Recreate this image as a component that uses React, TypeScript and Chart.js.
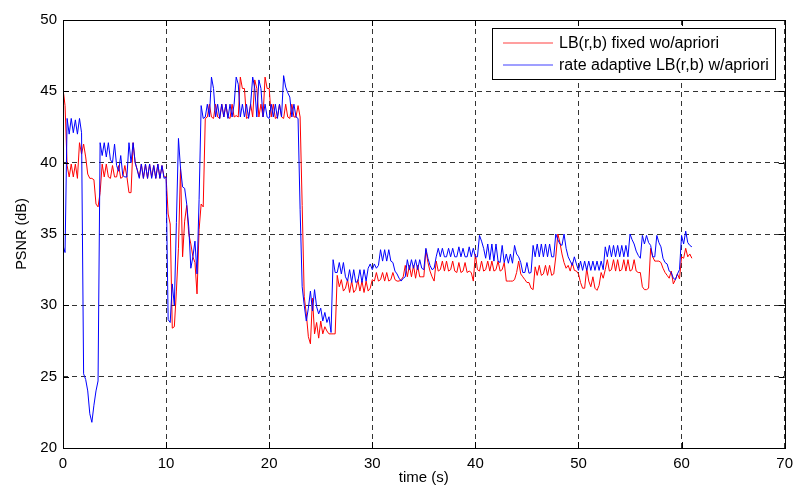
import React, { useEffect, useRef } from "react";
import { Chart, registerables } from "chart.js";

Chart.register(...registerables);

const FONT = "'Liberation Sans', Arial, Helvetica, sans-serif";

const sampleStep = 0.2; // seconds between samples
const xTicks = [0, 10, 20, 30, 40, 50, 60, 70];
const yTicks = [20, 25, 30, 35, 40, 45, 50];
const xTitle = "time (s)";
const yTitle = "PSNR (dB)";
const legendLabels = ["LB(r,b) fixed wo/apriori", "rate adaptive LB(r,b) w/apriori"];

// LB(r,b) fixed wo/apriori (red), one value every 0.2 s, rows of 2 s
const redPSNR = [
  45.2, 44.0, 39.8, 39.0, 39.9, 39.0, 39.9, 38.9, 41.4, 40.6,
  41.3, 40.4, 39.2, 38.9, 38.9, 38.8, 37.1, 36.9, 37.9, 39.9,
  39.0, 39.9, 39.0, 38.9, 39.8, 39.0, 39.0, 39.8, 38.9, 39.0,
  39.8, 39.0, 37.9, 37.9, 41.4, 40.0, 39.5, 39.0, 39.9, 38.9,
  39.9, 38.9, 39.9, 39.0, 39.8, 38.9, 39.9, 38.9, 39.8, 39.0,
  39.0, 36.4, 35.7, 28.4, 28.5, 31.0, 34.0, 39.7, 33.4, 35.9,
  37.0, 35.0, 34.3, 33.4, 33.0, 30.8, 35.3, 37.1, 36.9, 43.1,
  43.2, 44.1, 43.2, 43.1, 44.1, 43.2, 43.1, 44.1, 43.2, 44.1,
  43.2, 43.1, 44.1, 43.2, 43.3, 43.2, 46.0, 45.2, 45.2, 43.1,
  43.2, 44.1, 43.2, 45.8, 45.2, 43.2, 44.1, 43.2, 46.0, 45.2,
  45.2, 43.2, 44.1, 43.1, 43.2, 44.1, 43.2, 43.1, 44.1, 43.2,
  43.1, 44.1, 43.2, 43.2, 44.0, 43.2, 37.0, 30.6, 29.4, 27.8,
  27.3, 30.5, 28.0, 28.8, 27.7, 28.9, 28.0, 28.5, 28.2, 28.0,
  28.0, 28.0, 28.0, 32.1, 31.3, 31.8, 31.0, 31.2, 31.8, 30.9,
  31.7, 30.9, 31.1, 31.8, 31.0, 31.7, 30.9, 31.7, 31.0, 31.2,
  31.8, 31.7, 32.3, 31.7, 31.8, 32.3, 31.7, 32.3, 31.7, 31.8,
  32.3, 31.8, 31.7, 31.7, 31.8, 32.0, 32.8, 32.0, 32.8, 32.0,
  32.8, 31.9, 32.8, 32.0, 32.0, 32.0, 33.9, 33.0, 32.4, 32.0,
  31.7, 33.1, 32.4, 32.5, 33.1, 32.4, 33.1, 32.4, 32.5, 33.1,
  32.4, 32.3, 33.0, 32.3, 32.4, 33.0, 32.3, 32.4, 32.3, 31.7,
  33.6, 32.5, 32.4, 33.1, 32.4, 32.5, 33.1, 32.4, 33.1, 32.4,
  32.5, 33.1, 32.4, 32.5, 33.0, 31.7, 31.7, 31.7, 31.7, 31.8,
  32.3, 33.1, 32.2, 32.0, 31.8, 31.6, 31.6, 31.2, 31.1, 32.7,
  32.1, 32.8, 32.1, 32.2, 32.8, 32.1, 32.8, 32.1, 32.2, 33.4,
  35.0, 34.4, 33.6, 33.0, 32.6, 32.8, 32.4, 33.0, 32.45, 32.4,
  32.2, 31.6, 31.2, 31.2, 32.6, 31.7, 31.3, 32.0, 31.2, 31.05,
  31.4, 32.3, 31.9, 32.5, 33.2, 32.4, 32.5, 33.2, 32.4, 33.2,
  32.4, 32.5, 33.2, 32.4, 33.2, 32.4, 32.5, 33.2, 32.4, 32.3,
  32.3, 31.3, 31.1, 31.1, 31.2, 34.0, 33.4, 33.1, 33.1, 33.1,
  33.0, 32.6, 32.3, 32.1, 31.9, 32.4, 31.5, 31.8, 32.2, 31.85,
  33.4, 33.3, 34.0, 33.4, 33.6, 33.3,
];

// rate adaptive LB(r,b) w/apriori (blue), one value every 0.2 s
const bluePSNR = [
  34.2, 33.7, 43.1, 42.0, 43.1, 42.1, 43.0, 42.0, 43.1, 42.1,
  25.2, 24.8, 24.0, 22.4, 21.8, 23.0, 24.0, 24.7, 41.4, 40.5,
  41.4, 40.4, 41.4, 40.2, 40.0, 41.3, 39.8, 39.4, 40.5, 39.1,
  39.0, 39.0, 41.4, 40.0, 41.4, 40.0, 39.5, 38.9, 39.9, 38.9,
  39.9, 38.9, 39.9, 38.9, 39.8, 38.9, 39.9, 38.9, 39.8, 38.9,
  39.0, 29.0, 28.8, 31.5, 30.0, 35.8, 41.7, 39.6, 38.3, 38.2,
  37.1, 35.5, 32.6, 33.4, 34.5, 32.2, 37.4, 44.0, 43.1, 43.2,
  44.1, 43.2, 46.0, 45.2, 43.2, 44.1, 43.1, 44.1, 43.2, 44.1,
  43.1, 44.1, 43.2, 44.1, 46.0, 45.5, 43.2, 44.1, 43.2, 44.1,
  43.1, 44.1, 46.0, 45.2, 43.2, 45.8, 45.2, 43.2, 44.1, 43.2,
  43.1, 44.1, 43.2, 44.1, 43.1, 44.1, 43.2, 46.1, 45.3, 44.9,
  44.6, 43.2, 44.1, 43.2, 43.1, 36.7, 31.3, 30.0, 28.9, 29.8,
  31.0, 29.6, 31.1, 29.9, 29.4, 29.8, 28.9, 29.5, 28.8, 29.2,
  28.1, 33.2, 32.3, 32.3, 33.0, 32.2, 33.0, 32.0, 31.7, 32.5,
  31.6, 32.5, 31.6, 31.7, 32.5, 31.6, 32.5, 31.7, 32.6, 32.9,
  32.5, 32.9, 32.6, 32.8, 33.9, 33.1, 33.9, 33.1, 33.9, 33.1,
  33.0, 32.4, 32.2, 31.9, 31.7, 31.9, 32.0, 33.2, 32.5, 33.2,
  32.6, 33.2, 32.5, 33.2, 32.6, 32.5, 34.0, 33.3, 32.8, 32.5,
  32.6, 33.4, 34.0, 33.4, 34.0, 33.4, 33.4, 34.0, 33.4, 34.0,
  33.4, 33.4, 34.1, 33.4, 34.0, 33.4, 33.4, 34.1, 33.4, 34.0,
  33.4, 33.4, 34.9, 34.5, 34.0, 33.3, 34.3, 33.2, 34.3, 33.1,
  34.3, 33.1, 33.0, 34.2, 33.0, 33.6, 32.95, 33.6, 32.95, 34.2,
  33.6, 33.4, 33.0, 32.3, 32.3, 33.0, 32.25, 32.3, 34.2, 33.4,
  34.3, 33.4, 34.3, 33.4, 34.3, 33.4, 34.3, 33.4, 33.4, 35.0,
  34.6, 34.3, 34.2, 35.0, 34.0, 33.4, 33.1, 32.8, 33.4, 32.9,
  32.45, 33.1, 32.45, 33.1, 32.45, 33.1, 32.45, 33.1, 32.45, 33.1,
  32.45, 33.1, 32.5, 34.1, 33.4, 34.2, 33.4, 34.2, 33.4, 34.2,
  33.4, 34.2, 33.4, 34.2, 33.4, 35.0, 34.6, 34.3, 33.8, 33.5,
  33.3, 34.9, 34.3, 34.9, 34.4, 34.2, 33.4, 33.4, 34.9, 34.4,
  34.1, 33.3, 33.0, 32.9, 32.4, 32.3, 31.9, 31.8, 32.2, 32.5,
  34.9, 34.3, 35.2, 34.4, 34.2, 34.1,
];

const RED = "#ff0000";
const BLUE = "#0000ff";

export default function App() {
  const ref = useRef<HTMLCanvasElement>(null);

  useEffect(() => {
    document.body.style.margin = "0";
    const canvas = ref.current;
    if (!canvas) return;

    const toPoints = (vals: number[]) =>
      vals.map((v, i) => ({ x: Math.round(i * sampleStep * 10) / 10, y: v }));

    const framePlugin = {
      id: "matlabFrame",
      afterDraw(chart: any) {
        const { ctx, chartArea } = chart;
        const { left, right, top, bottom } = chartArea;
        const xs = chart.scales.x;
        const ys = chart.scales.y;
        ctx.save();
        // axes box
        ctx.strokeStyle = "#000";
        ctx.lineWidth = 1;
        ctx.setLineDash([]);
        ctx.strokeRect(Math.round(left) + 0.5, Math.round(top) + 0.5, Math.round(right - left), Math.round(bottom - top));
        // inward tick marks
        const tl = 6;
        ctx.beginPath();
        xTicks.forEach((v) => {
          const px = Math.round(xs.getPixelForValue(v)) + 0.5;
          ctx.moveTo(px, bottom);
          ctx.lineTo(px, bottom - tl);
          ctx.moveTo(px, top);
          ctx.lineTo(px, top + tl);
        });
        yTicks.forEach((v) => {
          const py = Math.round(ys.getPixelForValue(v)) + 0.5;
          ctx.moveTo(left, py);
          ctx.lineTo(left + tl, py);
          ctx.moveTo(right, py);
          ctx.lineTo(right - tl, py);
        });
        ctx.stroke();

        // axis titles
        ctx.fillStyle = "#000";
        ctx.textAlign = "center";
        ctx.textBaseline = "middle";
        ctx.font = `15px ${FONT}`;
        ctx.fillText(xTitle, (left + right) / 2, 478);
        ctx.save();
        ctx.font = `14.5px ${FONT}`;
        ctx.translate(22, (top + bottom) / 2);
        ctx.rotate(-Math.PI / 2);
        ctx.fillText(yTitle, 0, 0);
        ctx.restore();

        // legend
        const lx = 492.5, ly = 28.5, lw = 283, lh = 51;
        ctx.fillStyle = "#fff";
        ctx.fillRect(lx, ly, lw, lh);
        ctx.strokeStyle = "#000";
        ctx.lineWidth = 1;
        ctx.strokeRect(lx, ly, lw, lh);
        const rows = [
          { label: legendLabels[0], color: RED, y: 43 },
          { label: legendLabels[1], color: BLUE, y: 65 },
        ];
        ctx.font = `16px ${FONT}`;
        ctx.textAlign = "left";
        rows.forEach((r) => {
          ctx.strokeStyle = r.color;
          ctx.lineWidth = 1.2;
          ctx.globalAlpha = 0.75;
          ctx.beginPath();
          ctx.moveTo(503, r.y);
          ctx.lineTo(553, r.y);
          ctx.stroke();
          ctx.globalAlpha = 1;
          ctx.fillStyle = "#000";
          ctx.fillText(r.label, 559, r.y + 1);
        });
        ctx.restore();
      },
    };

    const chart = new Chart(canvas, {
      type: "line",
      data: {
        datasets: [
          {
            label: legendLabels[1],
            data: toPoints(bluePSNR),
            borderColor: BLUE,
            borderWidth: 1,
            pointRadius: 0,
            tension: 0,
            fill: false,
          },
          {
            label: legendLabels[0],
            data: toPoints(redPSNR),
            borderColor: RED,
            borderWidth: 1,
            pointRadius: 0,
            tension: 0,
            fill: false,
          },
        ],
      },
      options: {
        animation: false,
        responsive: false,
        devicePixelRatio: 1,
        layout: { padding: { top: 20, right: 10, left: 0, bottom: 0 } },
        plugins: { legend: { display: false }, tooltip: { enabled: false } },
        scales: {
          x: {
            type: "linear",
            min: 0,
            max: 70,
            afterBuildTicks: (s: any) => {
              s.ticks = xTicks.map((v) => ({ value: v }));
            },
            afterFit: (s: any) => {
              s.height = 41;
            },
            grid: { color: "#333", lineWidth: 1, drawTicks: false },
            border: { display: false, dash: [5, 4] },
            ticks: { padding: 7, color: "#000", maxRotation: 0, font: { family: FONT, size: 15 } },
          },
          y: {
            type: "linear",
            min: 20,
            max: 50,
            afterBuildTicks: (s: any) => {
              s.ticks = yTicks.map((v) => ({ value: v }));
            },
            afterFit: (s: any) => {
              s.width = 63;
            },
            grid: { color: "#333", lineWidth: 1, drawTicks: false },
            border: { display: false, dash: [5, 4] },
            ticks: { padding: 6, color: "#000", font: { family: FONT, size: 15 } },
          },
        },
      },
      plugins: [framePlugin],
    });

    return () => chart.destroy();
  }, []);

  return (
    <div style={{ width: 800, height: 489, background: "#fff" }}>
      <canvas ref={ref} width={800} height={489} style={{ display: "block" }} />
    </div>
  );
}
